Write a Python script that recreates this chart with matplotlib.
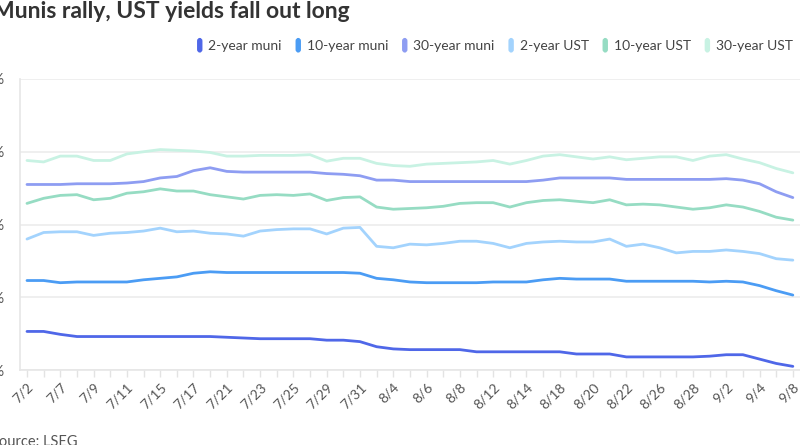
import matplotlib
matplotlib.use("Agg")
import matplotlib.pyplot as plt
from matplotlib.patches import FancyBboxPatch, Patch
from matplotlib.legend_handler import HandlerPatch

plt.rcParams['font.family'] = ['Lato', 'DejaVu Sans']

# trading days, 7/2 to 9/8
dates = ["7/2", "7/3", "7/7", "7/8", "7/9", "7/10", "7/11", "7/14", "7/15", "7/16",
         "7/17", "7/18", "7/21", "7/22", "7/23", "7/24", "7/25", "7/28", "7/29", "7/30",
         "7/31", "8/1", "8/4", "8/5", "8/6", "8/7", "8/8", "8/11", "8/12", "8/13",
         "8/14", "8/15", "8/18", "8/19", "8/20", "8/21", "8/22", "8/25", "8/26", "8/27",
         "8/28", "8/29", "9/2", "9/3", "9/4", "9/5", "9/8"]

muni_2y = [2.53, 2.53, 2.49, 2.46, 2.46, 2.46, 2.46, 2.46, 2.46, 2.46,
           2.46, 2.46, 2.45, 2.44, 2.43, 2.43, 2.43, 2.43, 2.41, 2.41,
           2.39, 2.32, 2.29, 2.28, 2.28, 2.28, 2.28, 2.25, 2.25, 2.25,
           2.25, 2.25, 2.25, 2.22, 2.22, 2.22, 2.18, 2.18, 2.18, 2.18,
           2.18, 2.19, 2.21, 2.21, 2.15, 2.09, 2.05]
muni_10y = [3.23, 3.23, 3.20, 3.21, 3.21, 3.21, 3.21, 3.24, 3.26, 3.28,
            3.33, 3.35, 3.34, 3.34, 3.34, 3.34, 3.34, 3.34, 3.34, 3.34,
            3.33, 3.26, 3.24, 3.21, 3.20, 3.20, 3.20, 3.20, 3.21, 3.21,
            3.21, 3.24, 3.26, 3.25, 3.25, 3.25, 3.22, 3.22, 3.22, 3.22,
            3.22, 3.21, 3.22, 3.21, 3.16, 3.09, 3.03]
muni_30y = [4.55, 4.55, 4.55, 4.56, 4.56, 4.56, 4.57, 4.59, 4.64, 4.66,
            4.74, 4.78, 4.73, 4.72, 4.72, 4.72, 4.72, 4.72, 4.70, 4.69,
            4.67, 4.61, 4.61, 4.59, 4.59, 4.59, 4.59, 4.59, 4.59, 4.59,
            4.59, 4.61, 4.64, 4.64, 4.64, 4.64, 4.62, 4.62, 4.62, 4.62,
            4.62, 4.62, 4.63, 4.61, 4.56, 4.45, 4.37]
ust_2y = [3.80, 3.89, 3.90, 3.90, 3.85, 3.88, 3.89, 3.91, 3.95, 3.90,
          3.91, 3.88, 3.87, 3.84, 3.91, 3.93, 3.94, 3.94, 3.87, 3.95,
          3.96, 3.70, 3.68, 3.73, 3.72, 3.74, 3.77, 3.77, 3.74, 3.68,
          3.74, 3.76, 3.77, 3.76, 3.76, 3.80, 3.70, 3.73, 3.68, 3.61,
          3.63, 3.63, 3.65, 3.63, 3.60, 3.53, 3.51]
ust_10y = [4.29, 4.36, 4.40, 4.41, 4.34, 4.36, 4.43, 4.45, 4.49, 4.46,
           4.46, 4.41, 4.38, 4.35, 4.40, 4.41, 4.40, 4.42, 4.33, 4.37,
           4.38, 4.24, 4.21, 4.22, 4.23, 4.25, 4.29, 4.30, 4.30, 4.24,
           4.30, 4.33, 4.34, 4.32, 4.30, 4.34, 4.27, 4.28, 4.27, 4.24,
           4.21, 4.23, 4.27, 4.24, 4.18, 4.10, 4.06]
ust_30y = [4.88, 4.86, 4.94, 4.94, 4.88, 4.88, 4.97, 5.00, 5.03, 5.02,
           5.01, 4.99, 4.94, 4.94, 4.95, 4.95, 4.95, 4.96, 4.87, 4.91,
           4.91, 4.84, 4.81, 4.80, 4.83, 4.84, 4.85, 4.86, 4.88, 4.83,
           4.88, 4.94, 4.96, 4.93, 4.90, 4.93, 4.89, 4.91, 4.93, 4.93,
           4.88, 4.94, 4.96, 4.90, 4.85, 4.77, 4.71]

y_ticks = [2, 3, 4, 5, 6]

series = [
    ("2-year muni", muni_2y, "#4f67e8"),
    ("10-year muni", muni_10y, "#4b9cf4"),
    ("30-year muni", muni_30y, "#8e9df2"),
    ("2-year UST", ust_2y, "#a3d3fd"),
    ("10-year UST", ust_10y, "#96dcc3"),
    ("30-year UST", ust_30y, "#c8f2e3"),
]


class RoundBoxHandler(HandlerPatch):
    def create_artists(self, legend, orig_handle, xdescent, ydescent,
                       width, height, fontsize, trans):
        p = FancyBboxPatch((-xdescent + 0.8, -ydescent - 1.5), width - 1.6, height + 3,
                           boxstyle="round,pad=0,rounding_size=2.2",
                           facecolor=orig_handle.get_facecolor(), edgecolor="none",
                           transform=trans)
        return [p]


fig = plt.figure(figsize=(8, 4.45), dpi=100)
ax = fig.add_axes([0.025, 1 - 370 / 445, 0.975, 291 / 445])

x = list(range(len(dates)))
for name, vals, col in series:
    ax.plot(x, vals, color=col, lw=2.0, solid_joinstyle="round",
            solid_capstyle="round")

ax.set_xlim(-0.42, 46.43)
ax.set_ylim(2, 6)
ax.set_yticks(y_ticks)
ax.set_yticklabels([f"{v}%" for v in y_ticks])
ax.yaxis.grid(True, color="#ececec", lw=1.2)
ax.set_axisbelow(True)

ax.set_xticks(x)
ax.set_xticklabels([d if i % 2 == 0 else "" for i, d in enumerate(dates)],
                   rotation=45, ha="right", rotation_mode="anchor")
ax.tick_params(axis="x", length=5, color="#e3e3e3", width=1, pad=3,
               labelsize=10, labelcolor="#555555")
ax.tick_params(axis="y", length=0, pad=11, labelsize=10.5, labelcolor="#555555")

for s in ["top", "right"]:
    ax.spines[s].set_visible(False)
for s in ["left", "bottom"]:
    ax.spines[s].set_color("#e6e6e6")
    ax.spines[s].set_linewidth(1.2)

handles = [Patch(facecolor=col, label=name) for name, vals, col in series]
fig.legend(handles=handles, loc="center right", bbox_to_anchor=(1.0, 1 - 46 / 445),
           ncol=6, frameon=False, fontsize=10, handlelength=0.55, handleheight=0.8,
           handletextpad=0.35, columnspacing=0.9, labelcolor="#444444",
           handler_map={Patch: RoundBoxHandler()}, borderaxespad=0.1)

fig.text(-0.009, 1 - 12 / 445, "Munis rally, UST yields fall out long",
         fontsize=16.5, fontweight="bold", color="#333333", va="center", ha="left")
fig.text(-0.011, 1 - 442 / 445, "Source: LSEG", fontsize=10.5,
         color="#555555", va="center", ha="left")

fig.savefig("out.png", dpi=100)
